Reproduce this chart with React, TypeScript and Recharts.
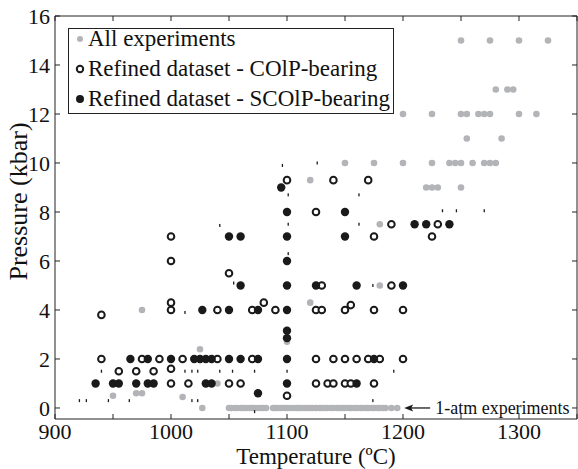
import { ScatterChart, Scatter, XAxis, YAxis, Legend, ReferenceDot } from 'recharts';

// All experiments (grey)
const allT = [1250, 1275, 1300, 1325, 1280, 1290, 1295, 1200, 1225, 1250, 1255, 1265, 1270, 1275, 1300, 1315, 1255, 1285,
  1150, 1175, 1200, 1225, 1240, 1245, 1250, 1260, 1270, 1275, 1280, 1120, 1220, 1225, 1230, 1250, 1180, 1180, 1120,
  975, 1100, 1025, 1040, 950, 970, 975, 1010, 1027,
  1050, 1052, 1055, 1057, 1060, 1062, 1065, 1068, 1070, 1072, 1075, 1078, 1080, 1082, 1088, 1090, 1092, 1095, 1098,
  1100, 1102, 1105, 1108, 1110, 1112, 1115, 1118, 1120, 1122, 1125, 1128, 1130, 1133, 1135, 1138, 1140, 1143, 1145,
  1148, 1150, 1153, 1155, 1158, 1160, 1163, 1165, 1168, 1170, 1173, 1175, 1178, 1180, 1183, 1185, 1190, 1195];
const allP = [15, 15, 15, 15, 13, 13, 13, 12, 12, 12, 12, 12, 12, 12, 12, 12, 11, 11,
  10, 10, 10, 10, 10, 10, 10, 10, 10, 10, 10, 9.3, 9, 9, 9, 9, 7.5, 5, 4.3,
  4, 2.7, 2.4, 1, 0.5, 0.6, 0.6, 0.45, 0,
  0, 0, 0, 0, 0, 0, 0, 0, 0, 0, 0, 0, 0, 0, 0, 0, 0, 0, 0,
  0, 0, 0, 0, 0, 0, 0, 0, 0, 0, 0, 0, 0, 0, 0, 0, 0, 0, 0,
  0, 0, 0, 0, 0, 0, 0, 0, 0, 0, 0, 0, 0, 0, 0, 0, 0, 0];

// Refined dataset - COlP-bearing (open)
const colpT = [1000, 1000, 1050, 1100, 1140, 1170, 1125, 1190, 1230, 1225, 1175, 1130, 1190, 1080, 1070, 1090, 1125,
  1130, 1150, 1155, 1175, 1200, 940, 1000, 1000, 1040, 940, 975, 990, 1010, 1040, 1070, 1125, 1140, 1150, 1160, 1170,
  1180, 1200, 955, 970, 985, 1000, 1000, 1015, 1050, 1060, 1125, 1135, 1140, 1150, 1155, 1175, 1100];
const colpP = [7, 6, 5.5, 9.3, 9.3, 9.3, 8, 7.5, 7.5, 7, 7, 5, 5, 4.3, 4, 4, 4,
  4, 4, 4.2, 4, 4, 3.8, 4.3, 4, 4, 2, 2, 2, 2, 2, 2, 2, 2, 2, 2, 2,
  2, 2, 1.5, 1.5, 1.5, 1.6, 1, 1, 1, 1, 1, 1, 1, 1, 1, 1, 0.5];

// Refined dataset - SCOlP-bearing (filled)
const scolpT = [1050, 1060, 1060, 1095, 1100, 1150, 1210, 1220, 1240, 1100, 1150, 1100, 1100, 1125, 1160, 1200, 1050,
  1075, 1100, 1027, 1100, 1100, 1050, 1060, 1075, 1100, 1175, 965, 980, 1000, 1020, 1025, 1030, 1035, 935, 950, 955,
  970, 980, 985, 1030, 1035, 1100, 1160, 1075];
const scolpP = [7, 7, 5, 9, 8, 8, 7.5, 7.5, 7.5, 7, 7, 6, 5, 5, 5, 5, 4,
  4, 4, 4, 3.15, 2.85, 2, 2, 2, 2, 2, 2, 2, 2, 2, 2, 2, 2, 1, 1, 1,
  1, 1, 1, 1, 1, 1, 1, 0.6];

// small black marks
const markT = [921, 927, 946, 964, 1018, 1023, 1174, 1072, 940, 1012, 1018, 1023, 1042, 1053, 1072, 1100, 1192, 1012,
  1054, 1174, 1096, 1126, 1101, 1162, 1101, 1162, 1042, 1101, 1234, 1246, 1270];
const markP = [0.3, 0.3, 0.3, 0.3, 0.3, 0.3, 0.3, -0.15, 1.5, 1.5, 1.5, 1.5, 1.5, 1.5, 1.5, 1.5, 1.5, 3.9,
  5.1, 5, 9.9, 10, 8.7, 8.7, 7.5, 7.5, 7.45, 6.3, 8.05, 8.05, 8.05];

const xTicks = [900, 950, 1000, 1050, 1100, 1150, 1200, 1250, 1300, 1350];
const yTicks = [0, 2, 4, 6, 8, 10, 12, 14, 16];

const toPts = (t: number[], p: number[]) => t.map((v, i) => ({ t: v, p: p[i] }));
const allData = toPts(allT, allP);
const colpData = toPts(colpT, colpP);
const scolpData = toPts(scolpT, scolpP);
const markData = toPts(markT, markP);

const FONT = '"Liberation Serif", "Times New Roman", serif';
const GREY = '#b3b4b8';
const INK = '#1a1a1a';

const GreyDot = (p: any) => <circle cx={p.cx} cy={p.cy} r={3.3} fill={GREY} />;
const OpenDot = (p: any) => <circle cx={p.cx} cy={p.cy} r={3.3} fill="#fff" stroke={INK} strokeWidth={2} />;
const FullDot = (p: any) => <circle cx={p.cx} cy={p.cy} r={4.2} fill={INK} />;
const Mark = (p: any) => <rect x={p.cx - 0.6} y={p.cy - 1.5} width={1.3} height={3} fill={INK} />;

const legendRows = [
  { name: 'All experiments', dot: <circle cx={11} cy={15} r={3} fill={GREY} /> },
  { name: 'Refined dataset - COlP-bearing', dot: <circle cx={11} cy={15} r={3.2} fill="#fff" stroke={INK} strokeWidth={2} /> },
  { name: 'Refined dataset - SCOlP-bearing', dot: <circle cx={11} cy={15} r={4} fill={INK} /> },
];

const LegendBox = () => (
  <div style={{ position: 'relative', width: 324, height: 84, border: '1px solid #222', background: '#fff', fontFamily: FONT, fontSize: 23, color: '#111' }}>
    {legendRows.map((r, i) => (
      <div key={r.name} style={{ position: 'absolute', left: 0, top: -5 + i * 30, height: 30, display: 'flex', alignItems: 'center', whiteSpace: 'nowrap' }}>
        <svg width={19} height={30}>{r.dot}</svg>
        <span>{r.name}</span>
      </div>
    ))}
  </div>
);

const AtmNote = (p: any) => {
  const x = p.cx, y = p.cy;
  return (
    <g>
      <line x1={x + 3} y1={y} x2={x + 26} y2={y} stroke={INK} strokeWidth={1.3} />
      <path d={`M${x} ${y} L${x + 9} ${y - 3.5} L${x + 7} ${y} L${x + 9} ${y + 3.5} Z`} fill={INK} />
      <text x={x + 31} y={y} dominantBaseline="central" fontFamily={FONT} fontSize={18} fill="#111">1-atm experiments</text>
    </g>
  );
};

const YTitle = (props: any) => {
  const vb = props.viewBox;
  const cx = vb.x + 18;
  const cy = vb.y + vb.height / 2 - 16;
  return (
    <text x={cx} y={cy} transform={`rotate(-90 ${cx} ${cy})`} textAnchor="middle" dominantBaseline="central" fontFamily={FONT} fontSize={26} fill="#111">
      Pressure (kbar)
    </text>
  );
};

const XTitle = (props: any) => {
  const vb = props.viewBox;
  return (
    <text x={vb.x + vb.width / 2} y={vb.y + 45} textAnchor="middle" fontFamily={FONT} fontSize={23} fill="#111">
      Temperature (ºC)
    </text>
  );
};

const tickStyle = { fill: '#111', fontSize: 22, fontFamily: FONT };
const blank = () => '';

export default function App() {
  return (
    <div style={{ position: 'absolute', left: 0, top: 0 }}>
      <ScatterChart width={578} height={469} margin={{ top: 15, right: 0, bottom: 0, left: 0 }}>
        <XAxis xAxisId="b" dataKey="t" type="number" domain={[900, 1350]} ticks={xTicks} interval={0}
          tickFormatter={(v: number) => (v % 100 === 0 ? String(v) : '')} height={50}
          tickSize={-5} tickMargin={9} tick={tickStyle} stroke="#222" label={XTitle} />
        <XAxis xAxisId="t" dataKey="t" type="number" orientation="top" domain={[900, 1350]} ticks={xTicks} interval={0}
          tickFormatter={blank} height={1} tickSize={-5} tick={tickStyle} stroke="#222" />
        <YAxis yAxisId="l" dataKey="p" type="number" domain={[-0.45, 16]} ticks={yTicks} interval={0} width={55}
          tickSize={-5} tickMargin={10} tick={tickStyle} stroke="#222" label={YTitle} allowDataOverflow />
        <YAxis yAxisId="r" dataKey="p" type="number" orientation="right" domain={[-0.45, 16]} ticks={yTicks} interval={0}
          width={1} tickSize={-5} tickFormatter={blank} tick={tickStyle} stroke="#222" allowDataOverflow />
        <Legend layout="vertical" align="center" verticalAlign="middle" content={LegendBox}
          wrapperStyle={{ left: 68, top: 28, width: 326, height: 86 }} />
        <Scatter name="All experiments" xAxisId="b" yAxisId="l" data={allData} shape={GreyDot} isAnimationActive={false} />
        <Scatter name="Refined dataset - COlP-bearing" xAxisId="b" yAxisId="l" data={colpData} shape={OpenDot} isAnimationActive={false} />
        <Scatter name="Refined dataset - SCOlP-bearing" xAxisId="b" yAxisId="l" data={scolpData} shape={FullDot} isAnimationActive={false} />
        <Scatter name="marks" xAxisId="t" yAxisId="r" data={markData} shape={Mark} legendType="none" isAnimationActive={false} />
        <ReferenceDot xAxisId="b" yAxisId="l" x={1201} y={0} r={0} shape={AtmNote} />
      </ScatterChart>
    </div>
  );
}
